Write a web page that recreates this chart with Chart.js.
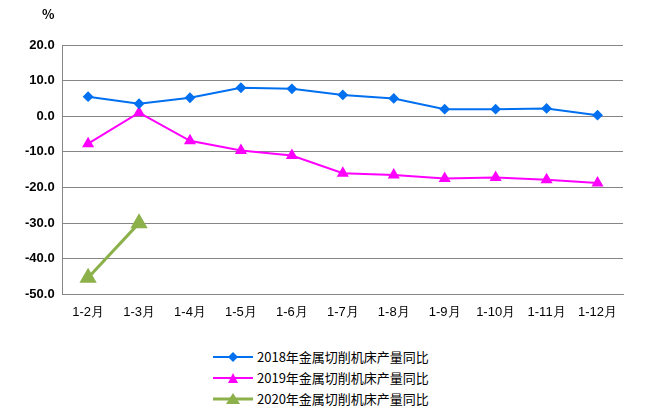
<!DOCTYPE html>
<html><head><meta charset="utf-8">
<script src="https://cdn.jsdelivr.net/npm/chart.js@4"></script>
<style>
body{margin:0;background:#fff;font-family:"Noto Sans CJK SC","Noto Sans",sans-serif;}
#wrap{position:relative;width:653px;height:340px;}
#pct{position:absolute;left:42px;top:4px;font-size:13px;font-weight:bold;color:#000;}
#legend{position:absolute;left:213px;top:346px;font-size:13px;color:#000;line-height:21px;}
.li{display:flex;align-items:center;height:21px;}
.li svg{margin-right:4px;}
</style></head><body>
<div id="wrap"><div id="pct">%</div><canvas id="c" width="653" height="340"></canvas></div>
<div id="legend"></div>
<script>
const categories=["1-2月","1-3月","1-4月","1-5月","1-6月","1-7月","1-8月","1-9月","1-10月","1-11月","1-12月"];
const s2018=[5.5,3.5,5.2,8.0,7.7,6.0,5.0,2.0,2.0,2.2,0.3];
const s2019=[-7.7,1.0,-6.9,-9.6,-11.0,-16.0,-16.5,-17.5,-17.2,-17.8,-18.7];
const s2020=[-45.3,-30.0,null,null,null,null,null,null,null,null,null];
const names=["2018年金属切削机床产量同比","2019年金属切削机床产量同比","2020年金属切削机床产量同比"];
const colors=["#0070F0","#FF00FF","#8CB04A"];
const styles=["rectRot","triangle","triangle"];
const radii=[4,5,7];
const widths=[2,2,3];
const data=[s2018,s2019,s2020];
new Chart(document.getElementById('c'),{type:'line',
data:{labels:categories,datasets:data.map((d,i)=>({label:names[i],data:d,borderColor:colors[i],backgroundColor:colors[i],pointStyle:styles[i],pointRadius:radii[i],borderWidth:widths[i],tension:0}))},
options:{responsive:false,animation:false,
layout:{padding:{left:17,right:30,top:45,bottom:10}},
plugins:{legend:{display:false},tooltip:{enabled:false}},
scales:{x:{offset:true,grid:{display:false,drawTicks:false},border:{color:'#868686'},ticks:{color:'#000',font:{size:13},padding:10}},
y:{min:-50,max:20,ticks:{stepSize:10,color:'#000',font:{size:13,weight:'bold'},padding:8,callback:v=>v.toFixed(1)},grid:{color:'#868686',drawTicks:false},border:{color:'#868686'}}}}});
const lg=document.getElementById('legend');
names.forEach((n,i)=>{
 const m=i==0?'<polygon points="20,1 25,6 20,11 15,6" fill="'+colors[0]+'"/>':'<polygon points="20,'+(i==2?0:1)+' '+(i==2?27:25)+',11 '+(i==2?13:15)+',11" fill="'+colors[i]+'"/>';
 lg.innerHTML+='<div class="li"><svg width="40" height="12"><line x1="0" y1="6" x2="40" y2="6" stroke="'+colors[i]+'" stroke-width="'+widths[i]+'"/>'+m+'</svg>'+n+'</div>';
});
</script></body></html>
